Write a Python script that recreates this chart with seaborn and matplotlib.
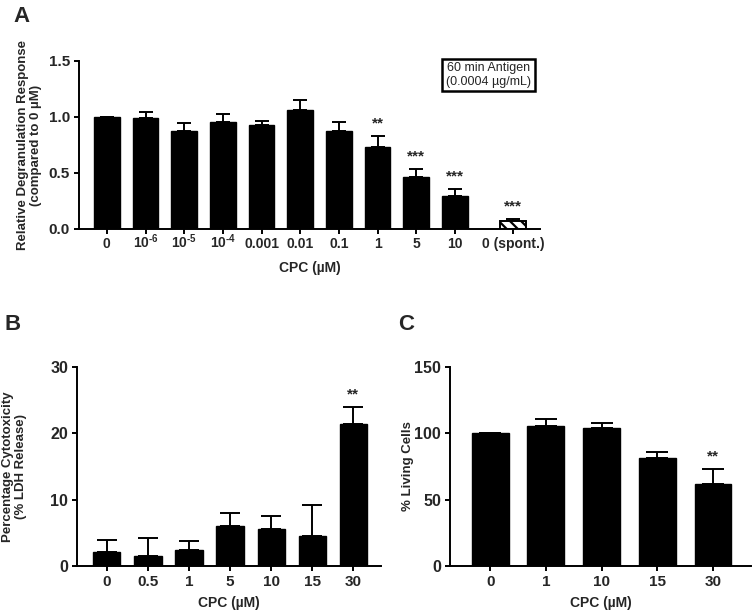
import numpy as np
import pandas as pd
import matplotlib
matplotlib.use("Agg")
import matplotlib.pyplot as plt
import seaborn as sns

# Panel A: degranulation vs CPC (60 min antigen)
a_labels = ["0", "10$^{\\text{-6}}$", "10$^{\\text{-5}}$", "10$^{\\text{-4}}$",
            "0.001", "0.01", "0.1", "1", "5", "10"]
a_means = [1.00, 0.988, 0.875, 0.952, 0.929, 1.065, 0.872, 0.735, 0.467, 0.295]
a_errs = [0.0, 0.057, 0.071, 0.072, 0.038, 0.084, 0.083, 0.095, 0.069, 0.062]
a_stars = ["", "", "", "", "", "", "", "**", "***", "***"]
spont_label = "0 (spont.)"
spont_mean = 0.071
spont_err = 0.018
spont_star = "***"

# Panel B: LDH release
b_labels = ["0", "0.5", "1", "5", "10", "15", "30"]
b_means = [2.05, 1.51, 2.41, 6.08, 5.58, 4.52, 21.37]
b_errs = [1.87, 2.76, 1.41, 1.86, 1.96, 4.68, 2.56]
b_stars = ["", "", "", "", "", "", "**"]

# Panel C: living cells
c_labels = ["0", "1", "10", "15", "30"]
c_means = [100.0, 105.3, 104.0, 81.3, 62.0]
c_errs = [0.0, 5.5, 4.0, 5.0, 11.0]
c_stars = ["", "", "", "", "**"]

sns.set_theme(style="ticks")
plt.rcParams["font.family"] = ["Liberation Sans", "DejaVu Sans"]
plt.rcParams["font.weight"] = "bold"
plt.rcParams["mathtext.fontset"] = "custom"
plt.rcParams["mathtext.rm"] = "Liberation Sans:bold"
plt.rcParams["mathtext.it"] = "Liberation Sans:bold"
plt.rcParams["mathtext.bf"] = "Liberation Sans:bold"
plt.rcParams["hatch.linewidth"] = 1.6

fig = plt.figure(figsize=(7.54, 6.14), dpi=100)
W, H = 754, 614


def px_axes(left, right, top, bottom):
    return fig.add_axes([left / W, 1 - bottom / H, (right - left) / W, (bottom - top) / H])


def style_axis(ax, xsize, ysize):
    sns.despine(ax=ax)
    for s in ["left", "bottom"]:
        ax.spines[s].set_linewidth(1.4)
        ax.spines[s].set_color("black")
    ax.tick_params(axis="both", width=1.4, length=3.5, color="black", pad=3)
    ax.tick_params(axis="x", labelsize=xsize)
    ax.tick_params(axis="y", labelsize=ysize)
    for lab in ax.get_xticklabels() + ax.get_yticklabels():
        lab.set_fontweight("bold")


def add_errs(ax, xs, means, errs, stars, capsize, star_size):
    lower = np.zeros(len(errs))
    ax.errorbar(xs, means, yerr=[lower, errs], fmt="none", ecolor="black",
                elinewidth=1.4, capsize=capsize, capthick=1.4, zorder=1)
    for x, m, e, s in zip(xs, means, errs, stars):
        if s:
            ax.annotate(s, (x, m + e), xytext=(0, 4), textcoords="offset points",
                        ha="center", va="bottom", fontsize=star_size, fontweight="bold")


# ---- Panel A ----
ax_a = px_axes(79, 540, 61, 229)
pos_a = np.arange(len(a_labels), dtype=float)
spont_pos = pos_a[-1] + 1.5
df_a = pd.DataFrame({"pos": pos_a, "value": a_means})
sns.barplot(data=df_a, x="pos", y="value", native_scale=True, color="black",
            edgecolor="black", width=0.66, errorbar=None, ax=ax_a, zorder=2)
df_s = pd.DataFrame({"pos": [spont_pos], "value": [spont_mean]})
sns.barplot(data=df_s, x="pos", y="value", native_scale=True, color="white",
            edgecolor="black", linewidth=1.4, hatch="\\\\\\", width=0.66,
            errorbar=None, ax=ax_a, zorder=2)
add_errs(ax_a, list(pos_a) + [spont_pos], a_means + [spont_mean],
         a_errs + [spont_err], a_stars + [spont_star], 5, 11)
ax_a.set_xlim(-0.72, spont_pos + 0.7)
ax_a.set_ylim(0, 1.5)
ax_a.set_yticks([0.0, 0.5, 1.0, 1.5])
ax_a.set_yticklabels(["0.0", "0.5", "1.0", "1.5"])
ax_a.set_xticks(list(pos_a) + [spont_pos])
ax_a.set_xticklabels(a_labels + [spont_label])
style_axis(ax_a, 10, 11)
# align mixed plain / superscript labels on a common baseline
ax_a.tick_params(axis="x", pad=10.5)
for lab in ax_a.get_xticklabels():
    lab.set_verticalalignment("baseline")
ax_a.set_xlabel("CPC (µM)", fontsize=10, fontweight="bold")
ax_a.set_ylabel("Relative Degranulation Response\n(compared to 0 µM)",
                fontsize=9.5, fontweight="bold", linespacing=1.1)
ax_a.xaxis.set_label_coords(0.5, -0.19)
ax_a.yaxis.set_label_coords(-0.08, 0.5)
fig.text((440 + 537) / 2 / W, 1 - 75 / H, "60 min Antigen\n(0.0004 µg/mL)",
         ha="center", va="center", fontsize=9, fontweight="normal",
         linespacing=1.15,
         bbox=dict(boxstyle="square,pad=0.3", fc="white", ec="black", lw=1.8))

# ---- Panel B ----
ax_b = px_axes(77, 381, 367, 566)
df_b = pd.DataFrame({"conc": b_labels, "value": b_means})
sns.barplot(data=df_b, x="conc", y="value", order=b_labels, color="black",
            edgecolor="black", width=0.66, errorbar=None, ax=ax_b, zorder=2)
add_errs(ax_b, np.arange(len(b_labels)), b_means, b_errs, b_stars, 7, 11)
ax_b.set_xlim(-0.73, len(b_labels) - 1 + 0.68)
ax_b.set_ylim(0, 30)
ax_b.set_yticks([0, 10, 20, 30])
style_axis(ax_b, 11, 11.5)
ax_b.set_xlabel("CPC (µM)", fontsize=10, fontweight="bold")
ax_b.set_ylabel("Percentage Cytotoxicity\n(% LDH Release)", fontsize=9.5,
                fontweight="bold", linespacing=1.1)
ax_b.xaxis.set_label_coords(0.5, -0.15)
ax_b.yaxis.set_label_coords(-0.165, 0.5)

# ---- Panel C ----
ax_c = px_axes(450, 751, 367, 566)
df_c = pd.DataFrame({"conc": c_labels, "value": c_means})
sns.barplot(data=df_c, x="conc", y="value", order=c_labels, color="black",
            edgecolor="black", width=0.66, errorbar=None, ax=ax_c, zorder=2)
add_errs(ax_c, np.arange(len(c_labels)), c_means, c_errs, c_stars, 8, 11)
ax_c.set_xlim(-0.72, len(c_labels) - 1 + 0.68)
ax_c.set_ylim(0, 150)
ax_c.set_yticks([0, 50, 100, 150])
style_axis(ax_c, 11, 11.5)
ax_c.set_xlabel("CPC (µM)", fontsize=10, fontweight="bold")
ax_c.set_ylabel("% Living Cells", fontsize=9.5, fontweight="bold")
ax_c.xaxis.set_label_coords(0.5, -0.15)
ax_c.yaxis.set_label_coords(-0.12, 0.5)

# panel letters
fig.text(13 / W, 1 - 6 / H, "A", fontsize=16, fontweight="bold", va="top")
fig.text(4 / W, 1 - 314 / H, "B", fontsize=16, fontweight="bold", va="top")
fig.text(398 / W, 1 - 314 / H, "C", fontsize=16, fontweight="bold", va="top")

fig.savefig("out.png", dpi=100)
